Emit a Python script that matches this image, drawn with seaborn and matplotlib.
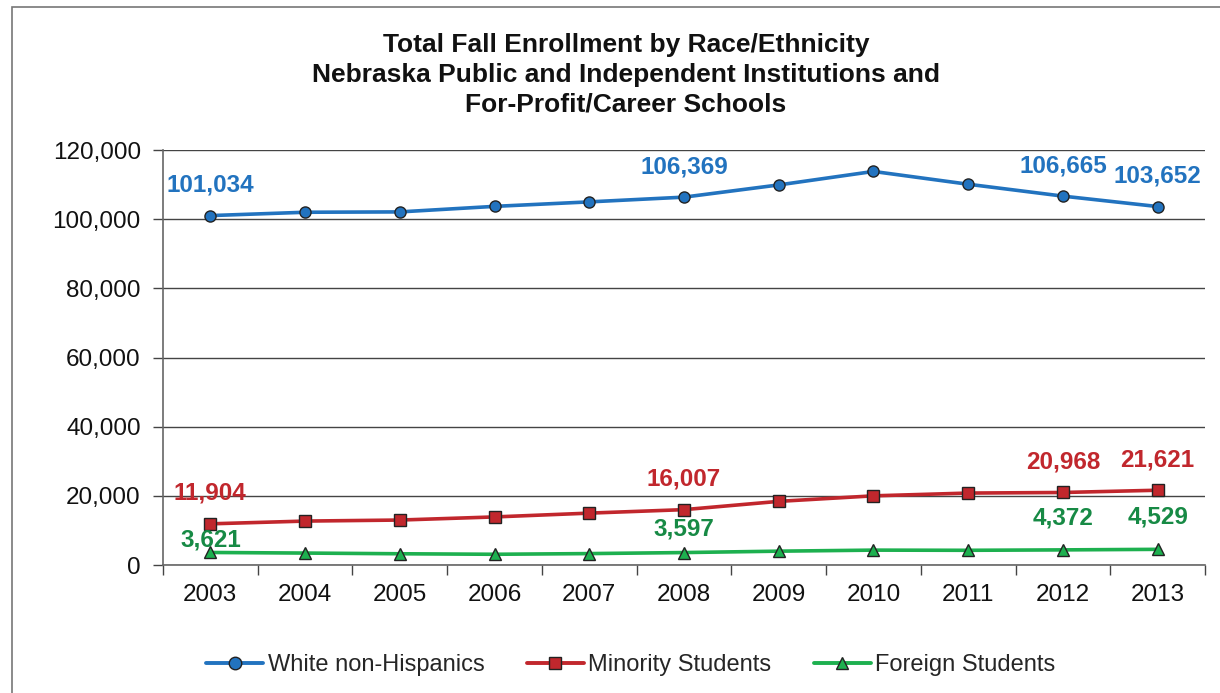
import matplotlib
matplotlib.use("Agg")
import matplotlib.pyplot as plt
from matplotlib.ticker import FuncFormatter, FixedLocator
from matplotlib.patches import Rectangle
import seaborn as sns
import pandas as pd

years = [2003, 2004, 2005, 2006, 2007, 2008, 2009, 2010, 2011, 2012, 2013]
white = [101034, 102000, 102100, 103700, 105000, 106369, 109900, 113800, 110100, 106665, 103652]
minority = [11904, 12700, 13000, 13900, 15000, 16007, 18400, 20000, 20800, 20968, 21621]
foreign = [3621, 3450, 3250, 3100, 3300, 3597, 4000, 4300, 4250, 4372, 4529]
series_names = ["White non-Hispanics", "Minority Students", "Foreign Students"]
labelled_years = [2003, 2008, 2012, 2013]
title_lines = ["Total Fall Enrollment by Race/Ethnicity",
               "Nebraska Public and Independent Institutions and",
               "For-Profit/Career Schools"]

line_colors = ["#2273BF", "#C1272D", "#1DB04F"]
text_colors = ["#2273BF", "#C1272D", "#178A45"]
markers = ["o", "s", "^"]
# label offsets above points (points), per series, per labelled year
label_offsets = [[22, 22, 22, 22], [22, 22, 22, 22], [9, 17, 23, 23]]

df = pd.concat([
    pd.DataFrame({"Year": years, "Enrollment": vals, "Series": name})
    for name, vals in zip(series_names, [white, minority, foreign])
])

sns.set_theme(style="white")
plt.rcParams["font.family"] = ["Liberation Sans", "DejaVu Sans"]

fig = plt.figure(figsize=(12.2, 6.93), dpi=100)
ax = fig.add_axes([163/1220, 1-565/693, (1205-163)/1220, (565-150)/693])

sns.lineplot(data=df, x="Year", y="Enrollment", hue="Series", style="Series",
             palette=line_colors, markers=markers, dashes=False,
             linewidth=2.6, markersize=8, markeredgecolor="#222222",
             markeredgewidth=1.0, ax=ax, legend=True)

ax.set_xlim(2002.5, 2013.5)
ax.set_ylim(0, 120000)
ax.set_yticks(range(0, 120001, 20000))
ax.yaxis.set_major_formatter(FuncFormatter(lambda v, p: f"{int(v):,}"))
ax.set_xticks(years)
ax.set_xticklabels([str(y) for y in years])
ax.xaxis.set_minor_locator(FixedLocator([y + 0.5 for y in [2002] + years]))
ax.tick_params(axis="x", which="major", length=0, labelsize=17.5, pad=14, colors="#111111")
ax.tick_params(axis="x", which="minor", length=7, width=1, color="#444444", direction="out", bottom=True)
ax.tick_params(axis="y", which="major", length=7, width=1, color="#444444", direction="out",
               left=True, labelsize=17.5, pad=9, labelcolor="#111111")
ax.grid(axis="y", color="#444444", linewidth=1.0)
ax.set_axisbelow(True)
for s in ["top", "right"]:
    ax.spines[s].set_visible(False)
for s in ["left", "bottom"]:
    ax.spines[s].set_color("#666666")
    ax.spines[s].set_linewidth(1.2)
ax.set_xlabel("")
ax.set_ylabel("")

for vals, col, offs in zip([white, minority, foreign], text_colors, label_offsets):
    k = 0
    for yr, v in zip(years, vals):
        if yr in labelled_years:
            ax.annotate(f"{v:,}", (yr, v), xytext=(0, offs[k]), textcoords="offset points",
                        ha="center", va="center", fontsize=17.5, fontweight="bold", color=col)
            k += 1

handles, labels = ax.get_legend_handles_labels()
ax.get_legend().remove()
leg = fig.legend(handles, labels, loc="center", bbox_to_anchor=(631/1220, 1-665/693),
                 ncol=3, frameon=False, fontsize=17, handlelength=2.4, columnspacing=1.8,
                 handletextpad=0.2)
for h in leg.legend_handles:
    h.set_linewidth(2.8)
    h.set_markersize(9)

for i, t in enumerate(title_lines):
    fig.text(626/1220, 1-(45 + 30*i)/693, t, ha="center", va="center", fontsize=19,
             fontweight="bold", color="#111111")

fig.add_artist(Rectangle((12/1220, -0.05), 1.2, 1.05 - 7/693, transform=fig.transFigure,
                         fill=False, edgecolor="#777777", linewidth=1.2))

fig.savefig("out.png", dpi=100, facecolor="white")
